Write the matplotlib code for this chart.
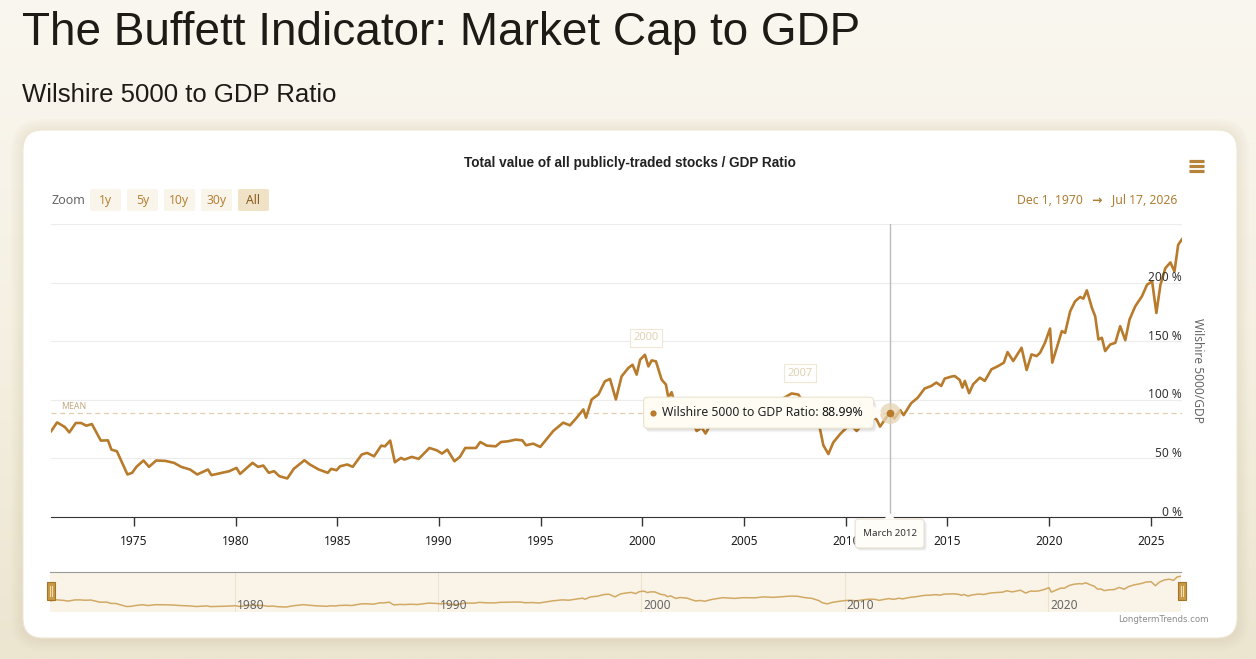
import numpy as np
import matplotlib
matplotlib.use('Agg')
import matplotlib.pyplot as plt
from matplotlib.patches import FancyBboxPatch, Polygon, Rectangle
from matplotlib.colors import LinearSegmentedColormap

W, H = 1256, 659
GOLD = '#b87b2c'
UI = ['Noto Sans', 'DejaVu Sans']

# data (decimal year, Wilshire 5000 / GDP in %)
years = [
    1970.92, 1971.22, 1971.60, 1971.82, 1972.14, 1972.40, 1972.66, 1972.93, 1973.37, 1973.72,
    1973.89, 1974.16, 1974.68, 1974.91, 1975.12, 1975.47, 1975.74, 1976.09, 1976.53, 1976.97,
    1977.32, 1977.76, 1978.11, 1978.64, 1978.81, 1979.69, 1980.04, 1980.22, 1980.83, 1981.10,
    1981.36, 1981.63, 1981.89, 1982.15, 1982.54, 1982.86, 1983.38, 1983.65, 1984.09, 1984.53,
    1984.70, 1984.96, 1985.14, 1985.49, 1985.76, 1986.20, 1986.46, 1986.81, 1987.16, 1987.34,
    1987.60, 1987.83, 1988.13, 1988.30, 1988.66, 1989.00, 1989.53, 1989.89, 1990.15, 1990.41,
    1990.76, 1991.03, 1991.29, 1991.82, 1992.03, 1992.35, 1992.79, 1993.05, 1993.40, 1993.76,
    1994.10, 1994.28, 1994.63, 1994.98, 1995.62, 1996.11, 1996.44, 1996.77, 1997.10, 1997.23,
    1997.51, 1997.84, 1998.16, 1998.41, 1998.49, 1998.70, 1998.98, 1999.31, 1999.52, 1999.72,
    1999.89, 2000.13, 2000.30, 2000.46, 2000.67, 2000.95, 2001.16, 2001.28, 2001.44, 2001.70,
    2001.90, 2002.25, 2002.50, 2002.67, 2002.92, 2003.11, 2003.50, 2004.00, 2004.60, 2005.00,
    2005.60, 2006.00, 2006.50, 2007.00, 2007.34, 2007.67, 2008.00, 2008.40, 2008.74, 2008.90,
    2009.15, 2009.39, 2009.72, 2010.05, 2010.30, 2010.54, 2010.79, 2011.10, 2011.30, 2011.52,
    2011.69, 2012.16, 2012.40, 2012.68, 2012.85, 2013.22, 2013.55, 2013.88, 2014.21, 2014.46,
    2014.70, 2014.87, 2015.20, 2015.36, 2015.61, 2015.74, 2015.86, 2016.07, 2016.27, 2016.60,
    2016.84, 2017.17, 2017.50, 2017.78, 2017.96, 2018.24, 2018.65, 2018.90, 2019.14, 2019.39,
    2019.56, 2019.80, 2020.05, 2020.16, 2020.38, 2020.63, 2020.79, 2021.04, 2021.28, 2021.53,
    2021.69, 2021.86, 2022.11, 2022.27, 2022.43, 2022.60, 2022.76, 2023.01, 2023.26, 2023.50,
    2023.75, 2023.96, 2024.24, 2024.57, 2024.82, 2025.07, 2025.28, 2025.48, 2025.72, 2025.97,
    2026.17, 2026.35, 2026.54,
]
ratio = [
    73.1, 80.7, 76.8, 72.2, 80.2, 80.2, 77.9, 79.3, 65.2, 65.4,
    57.5, 56.1, 36.3, 37.7, 42.8, 48.2, 42.8, 48.2, 47.9, 46.2,
    42.8, 40.5, 36.3, 40.5, 35.7, 39.1, 41.9, 36.8, 46.2, 42.8,
    43.9, 37.7, 39.1, 34.8, 32.9, 41.1, 48.4, 44.8, 40.5, 37.7,
    41.1, 39.9, 43.3, 44.8, 42.8, 53.3, 54.7, 51.8, 60.9, 60.3,
    65.2, 46.7, 50.4, 49.0, 51.3, 49.6, 58.9, 56.9, 54.1, 57.5,
    47.6, 51.3, 58.9, 58.9, 64.0, 60.9, 60.3, 64.0, 64.6, 66.0,
    65.4, 61.2, 62.6, 59.8, 73.4, 80.5, 78.2, 84.7, 91.8, 84.7,
    100.3, 104.5, 115.8, 117.8, 113.0, 100.3, 120.0, 127.1, 129.9, 121.5,
    134.2, 138.4, 128.5, 133.6, 132.8, 117.2, 113.0, 101.7, 106.5, 90.0,
    96.0, 92.0, 80.0, 73.4, 76.3, 71.2, 84.0, 95.0, 90.0, 95.0,
    94.0, 100.0, 97.0, 102.0, 105.4, 104.5, 96.0, 90.0, 74.9, 61.3,
    53.7, 63.6, 70.6, 76.3, 77.7, 73.4, 78.2, 84.0, 85.0, 83.3,
    77.1, 88.99, 84.1, 91.2, 86.9, 97.1, 101.9, 109.6, 111.8, 114.7,
    111.8, 118.1, 119.8, 120.3, 116.9, 110.4, 116.1, 105.6, 113.3, 118.9,
    116.1, 126.0, 128.8, 131.7, 140.7, 133.1, 144.4, 125.4, 138.7, 137.3,
    140.1, 148.6, 160.8, 131.7, 144.4, 158.6, 157.1, 175.5, 184.0, 187.7,
    186.3, 193.4, 178.4, 171.3, 151.5, 152.9, 141.6, 147.2, 148.6, 162.8,
    150.9, 168.5, 179.8, 188.3, 198.2, 201.0, 174.1, 198.2, 212.3, 217.2,
    209.5, 232.2, 237.0,
]
x_start, x_end = 1970.92, 2026.54
mean_ratio = 88.4
hover_year, hover_value, hover_label = 2012.16, 88.99, 'March 2012'
x_ticks = [1975, 1980, 1985, 1990, 1995, 2000, 2005, 2010, 2015, 2020, 2025]
y_ticks = [0, 50, 100, 150, 200]
grid_lines = [50, 100, 150, 200, 250]
nav_ticks = [1980, 1990, 2000, 2010, 2020]
flag_years = [2000.2, 2007.75]
flag_values = [141, 111]
flag_texts = ['2000', '2007']
zoom_labels = ['1y', '5y', '10y', '30y', 'All']

fig = plt.figure(figsize=(W / 100, H / 100), dpi=100)

# page background + card
bg = fig.add_axes([0, 0, 1, 1], zorder=0)
bg.set_xlim(0, W)
bg.set_ylim(H, 0)
bg.axis('off')
page = LinearSegmentedColormap.from_list('page', ['#faf7f0', '#f5f0e2', '#ece5d0'])
bg.imshow(np.linspace(0, 1, 256)[:, None], cmap=page, extent=[0, W, H, 0], aspect='auto')

for i in range(7):
    bg.add_patch(FancyBboxPatch((23 - i * 2, 131 - i * 2), 1214 + i * 4, 508 + i * 4,
                                boxstyle='round,pad=0,rounding_size=%d' % (20 + i * 2),
                                fc='#cfc2a0', ec='none', alpha=0.045))
card = FancyBboxPatch((23, 130), 1214, 508, boxstyle='round,pad=0,rounding_size=20',
                      fc='white', ec='#efe8d8', lw=0.8)
bg.add_patch(card)
glow = np.zeros((64, 1, 4))
glow[..., :3] = np.array([252, 245, 230]) / 255
glow[:, 0, 3] = np.linspace(0.9, 0, 64)
im = bg.imshow(glow, extent=[23, 1237, 240, 130], aspect='auto')
im.set_clip_path(card)

bg.text(22, 45, 'The Buffett Indicator: Market Cap to GDP', fontsize=33,
        family='Liberation Sans', color='#1e1a16', va='baseline')
bg.text(22, 102.5, 'Wilshire 5000 to GDP Ratio', fontsize=18.5, family='Liberation Sans',
        color='#1e1a16', va='baseline')
bg.text(630, 163, 'Total value of all publicly-traded stocks / GDP Ratio', fontsize=9.8,
        family='Liberation Sans', weight='bold', color='#222', ha='center', va='center')

# hamburger menu
for yy in (161, 166, 171):
    bg.plot([1189, 1204], [yy, yy], color='#b5833a', lw=2.3, solid_capstyle='butt')

# zoom buttons
bg.text(51, 201, 'Zoom', fontsize=9, family=UI, color='#666', va='center')
bx = 90
for lab in zoom_labels:
    sel = lab == 'All'
    bg.add_patch(FancyBboxPatch((bx, 189), 31, 22, boxstyle='round,pad=0,rounding_size=2',
                                fc='#efe2c6' if sel else '#faf5ea', ec='none'))
    bg.text(bx + 15.5, 200.5, lab, fontsize=8.8, family=UI, ha='center', va='center',
            color='#8b5e1e' if sel else '#b5833a')
    bx += 37
bg.text(1177, 200, 'Dec 1, 1970   \u2192   Jul 17, 2026', fontsize=8.8, family=UI,
        weight='semibold', color='#b07d34', ha='right', va='center')

# main chart
ax = fig.add_axes([51 / W, (H - 517) / H, 1131 / W, 293 / H], zorder=2)
ax.patch.set_alpha(0)
ax.set_xlim(x_start, x_end)
ax.set_ylim(0, 250)
for v in grid_lines:
    ax.axhline(v, color='#ececec', lw=0.8, zorder=1)
ax.axhline(mean_ratio, color='#e0cfaa', lw=0.9, ls=(0, (4, 3)), zorder=1.5)
ax.annotate('MEAN', (x_start, mean_ratio), xytext=(7, 2), textcoords='offset points',
            fontsize=6.3, family=UI, color='#c4aa84', va='bottom')
ax.axvline(hover_year, color='#bcbcbc', lw=1, zorder=2)
ax.plot(years, ratio, color=GOLD, lw=1.9, zorder=3, solid_joinstyle='round')
ax.plot([hover_year], [hover_value], 'o', ms=15, color='#e6d3b2', alpha=0.75, mec='none', zorder=4)
ax.plot([hover_year], [hover_value], 'o', ms=5.5, color=GOLD, mec='none', zorder=5)

for s in ('top', 'left', 'right'):
    ax.spines[s].set_visible(False)
ax.spines['bottom'].set_color('#333')
ax.set_xticks(x_ticks)
ax.tick_params(axis='x', length=6.5, width=1, color='#333', labelsize=8.6,
               labelcolor='#1c1c1c', pad=6.8)
for t in ax.get_xticklabels():
    t.set_family(UI)
ax.set_yticks([])
for v in y_ticks:
    ax.annotate('%d %%' % v, (x_end, v), xytext=(0, -1.2), textcoords='offset points',
                ha='right', va='bottom', fontsize=8.6, family=UI, color='#333')
bg.text(1197, 370, 'Wilshire 5000/GDP', rotation=270, fontsize=8.6, family=UI,
        color='#666', ha='center', va='center')

for fy, fv, ft in zip(flag_years, flag_values, flag_texts):
    ax.annotate(ft, (fy, fv), xytext=(0, 6), textcoords='offset points', ha='center',
                va='bottom', fontsize=8, family=UI, color='#e0d2b3', zorder=6,
                bbox=dict(boxstyle='square,pad=0.3', fc='white', ec='#f0e7d4', lw=0.8))

# navigator
nav = fig.add_axes([50 / W, (H - 612) / H, 1131 / W, 40 / H], zorder=2)
nav.set_facecolor('#faf4e8')
nav.set_xlim(x_start, x_end)
nav.set_ylim(0, 265)
for yr in nav_ticks:
    nav.axvline(yr, color='#ebe2cf', lw=0.8)
    nav.annotate(str(yr), (yr, 0), xytext=(1.5, 0), textcoords='offset points',
                 fontsize=8.6, family=UI, color='#666', va='bottom')
nav.plot(years, ratio, color='#d1a964', lw=1.1)
for s in ('left', 'right', 'bottom'):
    nav.spines[s].set_visible(False)
nav.spines['top'].set_color('#9a9a9a')
nav.set_xticks([])
nav.set_yticks([])

# overlay: tooltip, handles, credit
ov = fig.add_axes([0, 0, 1, 1], zorder=5)
ov.patch.set_alpha(0)
ov.set_xlim(0, W)
ov.set_ylim(H, 0)
ov.axis('off')

for hx in (46.5, 1177.5):
    ov.add_patch(Rectangle((hx, 582), 8, 18, fc='#c99a45', ec='#a47428', lw=0.8))
    ov.plot([hx + 3, hx + 3], [586, 596], color='#f3e2bd', lw=0.7)
    ov.plot([hx + 5, hx + 5], [586, 596], color='#f3e2bd', lw=0.7)
ov.text(1209, 619, 'LongtermTrends.com', fontsize=6.2, family='Liberation Sans Narrow',
        color='#8a8a8a', ha='right', va='center')

px, py = ax.transData.transform((hover_year, hover_value))
py = H - py
# value tooltip left of the point
tr, tw, th = px - 16, 230, 31
for k in range(3):
    ov.add_patch(FancyBboxPatch((tr - tw + 1 + k, py - th / 2 + 2 + k), tw, th,
                                boxstyle='round,pad=0,rounding_size=4', fc='#000',
                                ec='none', alpha=0.04))
ov.add_patch(FancyBboxPatch((tr - tw, py - th / 2), tw, th,
                            boxstyle='round,pad=0,rounding_size=4', fc='#fffcf4',
                            ec='#ebe3d0', lw=0.8))
ov.add_patch(Polygon([(tr - 0.5, py - 7), (tr + 8, py), (tr - 0.5, py + 7)],
                     closed=True, fc='#fffcf4', ec='none'))
ov.plot([tr - tw + 9], [py + 0.5], 'o', ms=4.5, color=GOLD, mec='none')
t1 = ov.text(tr - tw + 18, py, 'Wilshire 5000 to GDP Ratio: ', fontsize=8.8, family=UI,
             color='#222', va='center')
ov.annotate('%.2f%%' % hover_value, xy=(1, 0), xycoords=t1, fontsize=8.8, family=UI,
            weight='bold', color='#111', ha='left', va='bottom')

# date tooltip on the axis
ax_bottom = H - ax.transAxes.transform((0, 0))[1]
dw, dh = 69, 29
for k in range(3):
    ov.add_patch(FancyBboxPatch((px - dw / 2 + 1 + k, ax_bottom + 3 + k), dw, dh,
                                boxstyle='round,pad=0,rounding_size=3', fc='#000',
                                ec='none', alpha=0.04))
ov.add_patch(FancyBboxPatch((px - dw / 2, ax_bottom + 2), dw, dh,
                            boxstyle='round,pad=0,rounding_size=3', fc='#fffdf8',
                            ec='#e6e0d2', lw=0.8))
ov.add_patch(Polygon([(px - 6, ax_bottom + 2.5), (px, ax_bottom - 4), (px + 6, ax_bottom + 2.5)],
                     closed=True, fc='#fffdf8', ec='none'))
ov.text(px, ax_bottom + 2 + dh / 2, hover_label, fontsize=7, family=UI, color='#333',
        ha='center', va='center')

fig.savefig('out.png', dpi=100)
